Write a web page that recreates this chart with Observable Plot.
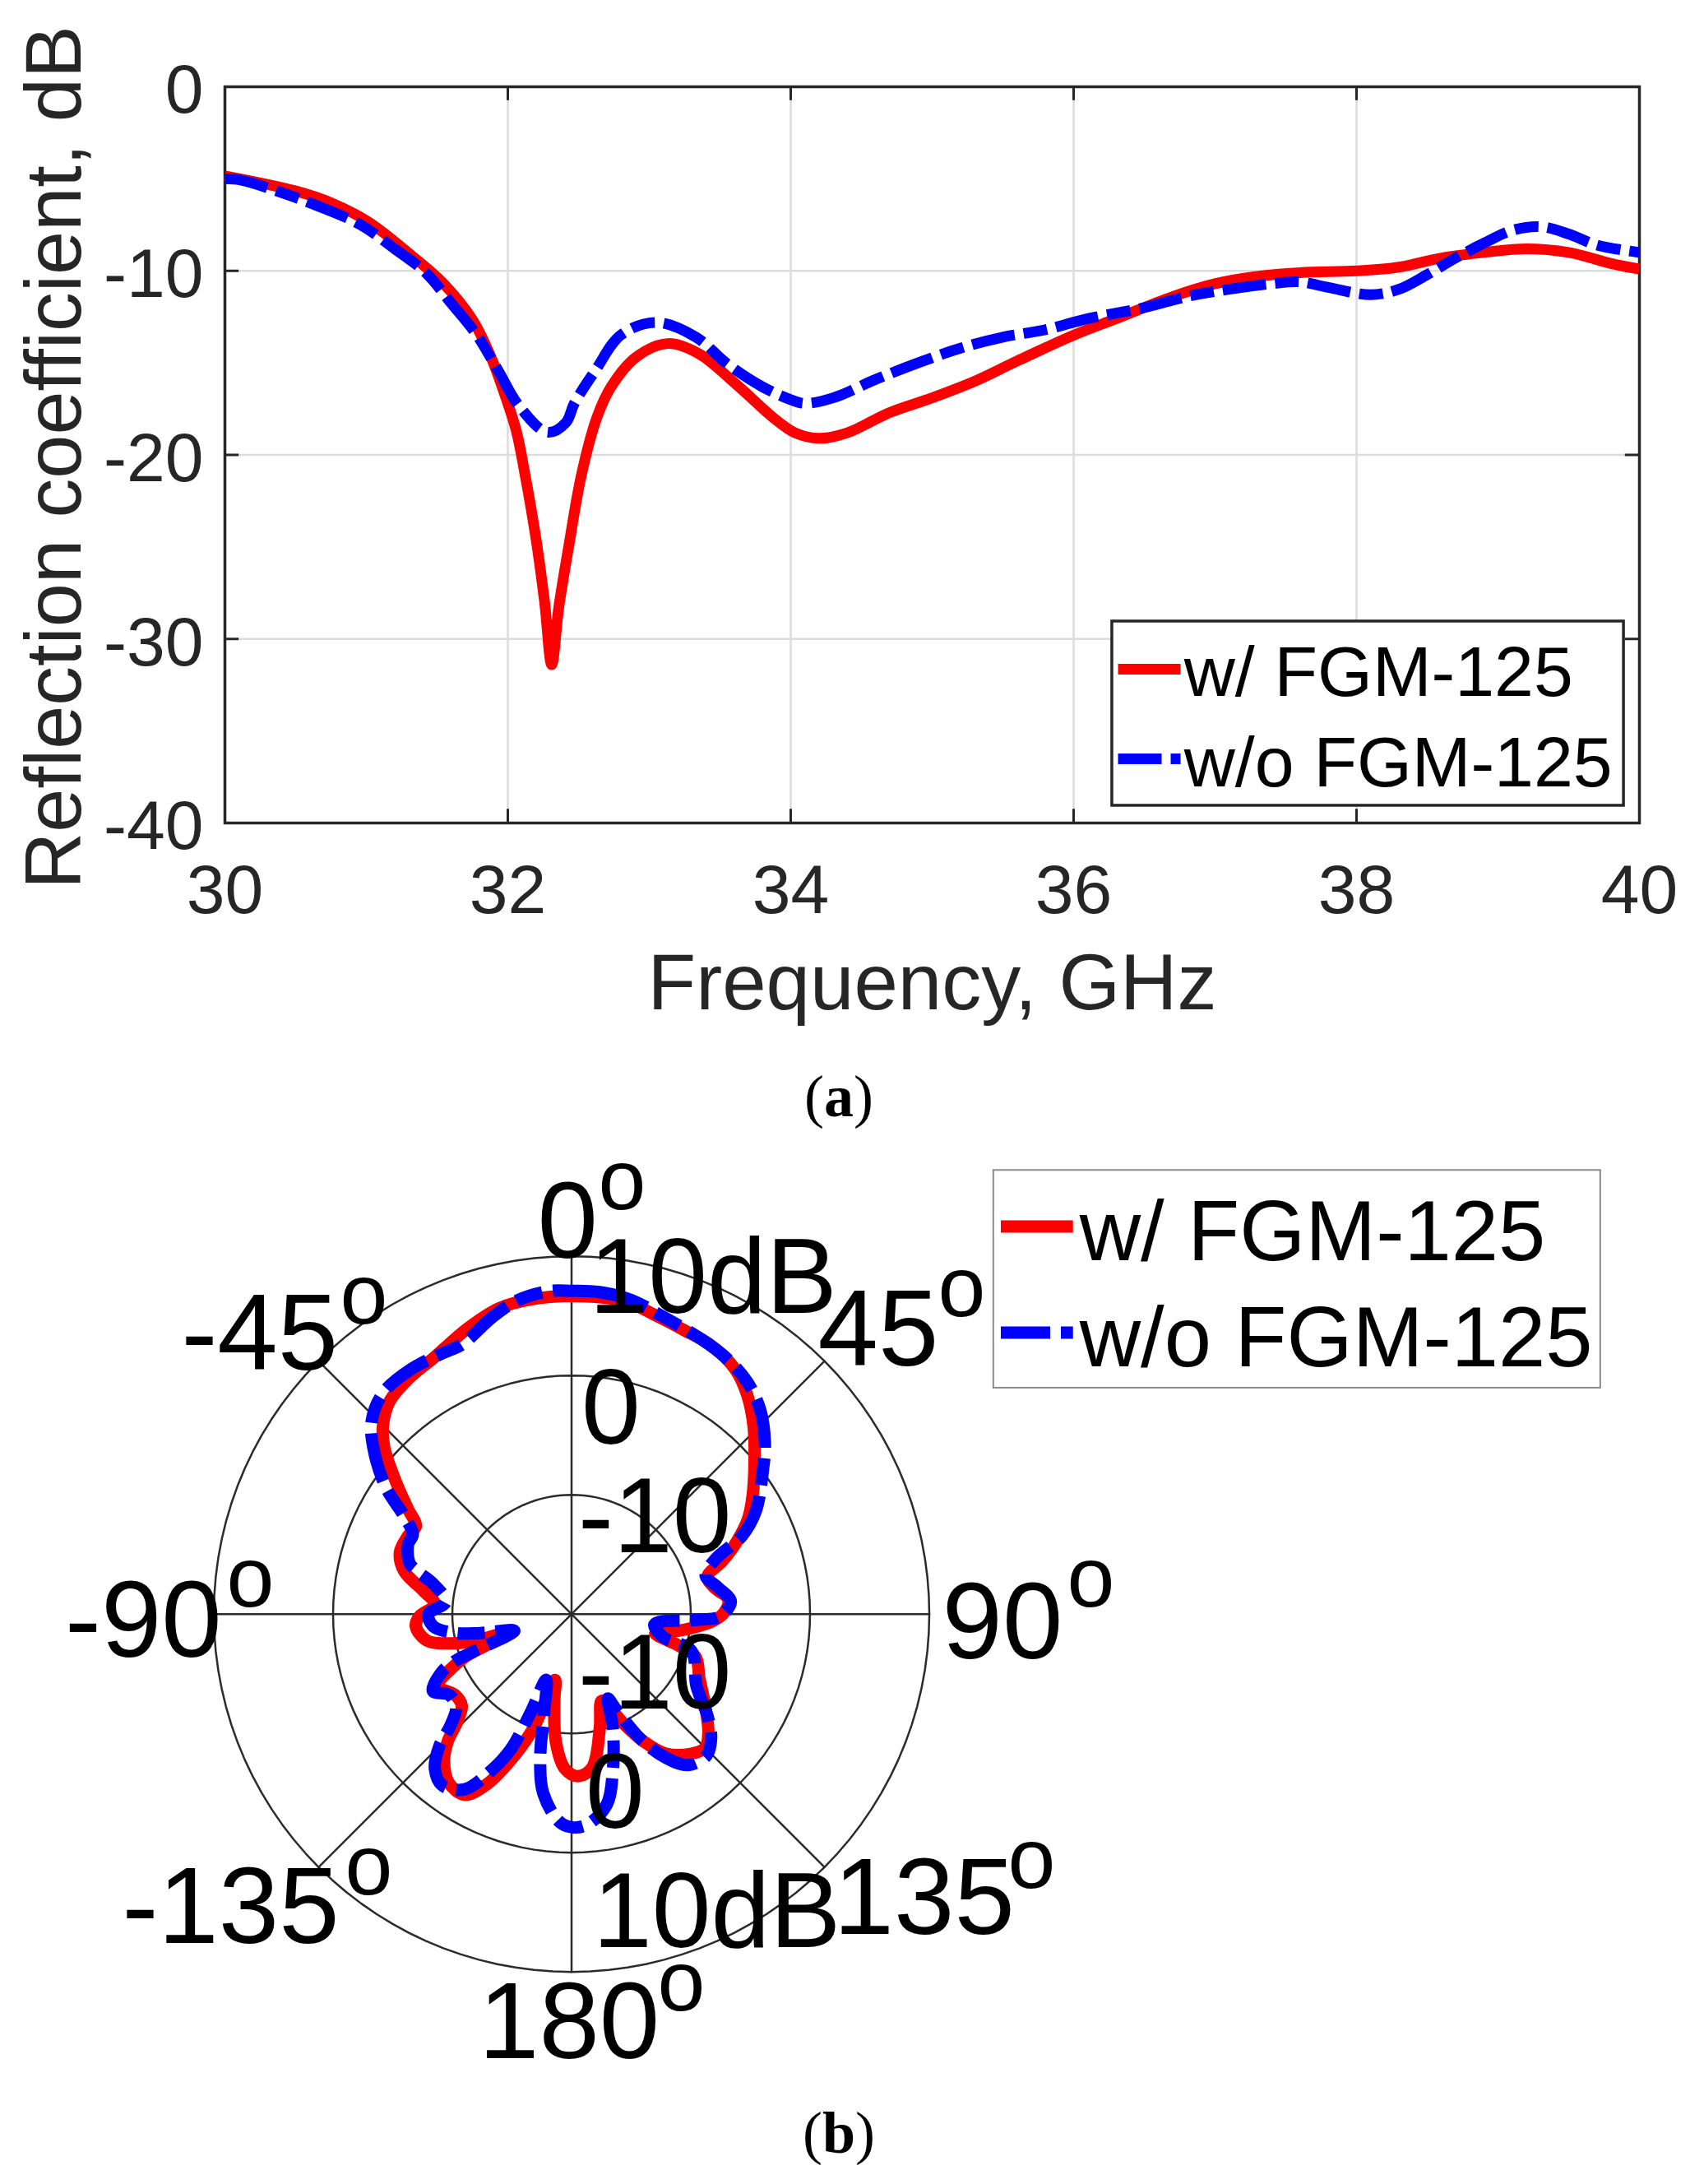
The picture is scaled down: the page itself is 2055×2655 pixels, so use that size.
<!DOCTYPE html>
<html><head><meta charset="utf-8">
<script src="https://cdn.jsdelivr.net/npm/d3@7"></script>
<script src="https://cdn.jsdelivr.net/npm/@observablehq/plot@0.6"></script>
<style>
html,body{margin:0;padding:0;background:#fff}
#page{position:relative;width:2055px;height:2655px;overflow:hidden;background:#fff}
#a,#b{position:absolute;left:0}
#a{top:0}#b{top:1360px}
.cap{position:absolute;font-family:"Liberation Serif",serif;font-size:72px;color:#000;transform:translateX(-50%);line-height:1}
</style></head><body>
<div id="page"><div id="a"></div><div id="b"></div>
<div class="cap" style="left:1020px;top:1297px">(<b>a</b>)</div>
<div class="cap" style="left:1020px;top:2557px">(<b>b</b>)</div>
</div>
<script>
// ---- Panel (a): reflection coefficient ----
const redFreq=[30,30.5,30.76,31.02,31.33,31.54,31.75,31.88,31.98,32.06,32.12,32.2,32.26,32.31,32.36,32.43,32.52,32.63,32.73,32.91,33.13,33.35,33.62,33.88,34.03,34.2,34.4,34.7,35,35.3,35.6,36,36.3,36.7,37,37.3,37.6,38,38.3,38.6,38.9,39.2,39.5,39.8,40];
const redDb=[-4.84,-5.66,-6.33,-7.37,-9.24,-10.65,-12.66,-14.67,-16.76,-18.7,-21,-24.6,-28,-31.4,-28.3,-25,-21.1,-17.96,-16.3,-14.67,-13.95,-14.5,-16.2,-18,-18.8,-19.1,-18.8,-17.7,-16.9,-16,-14.9,-13.5,-12.6,-11.4,-10.7,-10.3,-10.1,-10,-9.8,-9.3,-9,-8.8,-9,-9.6,-9.9];
const blueFreq=[30,30.11,30.42,30.68,30.96,31.2,31.42,31.6,31.78,31.93,32.08,32.28,32.41,32.47,32.62,32.8,33.05,33.33,33.55,33.8,34,34.1,34.3,34.6,34.9,35.2,35.5,35.8,36.1,36.5,36.8,37.1,37.4,37.6,37.8,38.1,38.3,38.5,38.7,38.9,39.1,39.3,39.5,39.7,40];
const blueDb=[-5,-5.07,-5.8,-6.55,-7.5,-8.8,-10.1,-11.76,-13.48,-15.4,-17.35,-18.77,-18.25,-17.2,-15.4,-13.48,-12.8,-13.6,-15.05,-16.3,-17,-17.2,-16.9,-15.9,-15,-14.2,-13.6,-13.2,-12.6,-12,-11.4,-11,-10.7,-10.6,-10.9,-11.3,-11,-10.2,-9.3,-8.5,-7.8,-7.6,-8,-8.6,-9];
const freqTicks=[30,32,34,36,38,40];
const dbTicks=[0,-10,-20,-30,-40];
const xTitle="Frequency, GHz";
const yTitle="Reflection coefficient, dB";
const seriesNames=["w/ FGM-125","w/o FGM-125"];

// ---- Panel (b): radiation pattern (angle clockwise from top, gain in dB) ----
const polarRedAngle=[0,9.7,15.9,21.8,27.1,33.7,38.9,44.2,48.8,56.6,61.7,66.9,70.5,74.7,79.6,84.6,89.4,92.7,96.7,99,103,106.3,109,116.7,124.5,131,135,139.5,146,150.4,154.3,158.5,161,166,172.4,177.7,182.4,187,191.3,194,198.4,202,206.5,210.6,216,221,224.2,226.7,230.1,235.4,241.6,243,245.5,248,250,254.3,254.4,256,259.7,265.5,269,274.1,279,284.4,289.8,295.5,299.5,302.7,307.1,311.6,314.8,319.3,325.1,331.7,340.1,346.7,352.6];
const polarRedDb=[6.67,6.6,6,5.6,5.4,4.7,3.5,1.9,0.4,-1.8,-3.2,-5.1,-6.55,-8.2,-7.8,-6.8,-7.2,-8.1,-9.9,-11,-12.8,-10.7,-9,-8,-6.4,-4.8,-4.15,-4.6,-5.9,-7.7,-9.7,-11.7,-12.3,-10.2,-7,-6.4,-7,-9.2,-12.6,-14.3,-10,-7.2,-4.05,-2.4,-2.5,-3.7,-5.1,-6.8,-8,-8.1,-7.2,-7.5,-8.85,-10.3,-12.4,-14.9,-11.8,-9.9,-7.65,-6.9,-7.2,-8.5,-7.4,-5.5,-4.7,-4.8,-5,-3.7,-1.5,1,2.3,3.45,4,4.4,5.5,6.35,6.6];
const polarBlueAngle=[0,5,10.8,17,25.9,31,37.2,42.8,48.5,53,60.8,65.4,68.9,73.9,79.8,85.5,91,92.6,97,104,107,120,127,131.8,136.3,142.3,146.7,151,155,156.7,160,165.4,169.7,176.7,182.6,189,192.5,195.2,201.2,202.6,204.3,207.4,211.4,217,221.5,225,227.4,231.3,236.7,241,246,248,249,253.8,258.3,260.8,265,270,275.6,282.4,285.5,287.5,293.1,296.7,300.2,304.4,310,314,319.4,326.8,333.7,337.8,345.2,350.3,356.1];
const polarBlueDb=[7.1,7.1,6.8,6.1,5.45,5.1,4.4,3.3,1.65,0.1,-2.3,-4.3,-7,-8.3,-7.5,-6.6,-7.6,-9.4,-13,-12.1,-9.5,-7.9,-5.7,-4.3,-3.6,-4,-5.6,-8,-11.2,-12.3,-9.9,-6.3,-3.7,-2.2,-2.4,-4.8,-7.9,-11.1,-14.1,-11,-7.5,-5.1,-2.8,-2,-2.7,-4.3,-6.2,-7.6,-7.7,-6.7,-8.1,-9.4,-11,-15,-12.2,-10.1,-8.35,-8,-9.4,-8.1,-6.6,-5.75,-5.1,-5.1,-3.8,-1.1,1.7,3.3,4.35,4.55,4.4,4.4,5.8,6.7,7.15];
const spokeAngles=[0,45,90,135];
const ringDb=[-10,0,10];
const angleLabels=["0","45","90","135","180","-135","-90","-45"];
const angleValues=[0,45,90,135,180,-135,-90,-45];
const radialLabels=["10dB","0","-10","-10","0","10dB"];

const sans='"Liberation Sans",Arial,sans-serif';
const inkA="#262626";

// ---- draw panel (a) ----
const rows=(xs,ys)=>xs.map((x,i)=>({x,y:ys[i]}));
const redStyle={stroke:"#ff0000",strokeWidth:13,strokeLinecap:"butt"};
const blueStyle={stroke:"#0000ff",strokeWidth:13,strokeLinecap:"butt",strokeDasharray:"53,11,29,11"};
document.getElementById("a").append(Plot.plot({
  width:2055,height:1300,marginLeft:273,marginRight:62,marginTop:105,marginBottom:300,
  style:{fontFamily:sans,background:"transparent"},
  x:{domain:[30,40],ticks:freqTicks},
  y:{domain:[-40,0],ticks:dbTicks},
  marks:[
    Plot.ruleX(freqTicks,{stroke:"#dcdcdc",strokeWidth:2.5}),
    Plot.ruleY(dbTicks,{stroke:"#dcdcdc",strokeWidth:2.5}),
    Plot.ruleX(freqTicks,{y1:-40,y2:-39.25,stroke:inkA,strokeWidth:3}),
    Plot.ruleX(freqTicks,{y1:0,y2:-0.75,stroke:inkA,strokeWidth:3}),
    Plot.ruleY(dbTicks,{x1:30,x2:30.1,stroke:inkA,strokeWidth:3}),
    Plot.ruleY(dbTicks,{x1:40,x2:39.9,stroke:inkA,strokeWidth:3}),
    Plot.frame({stroke:inkA,strokeWidth:3.5}),
    Plot.axisX(freqTicks,{anchor:"bottom",tickSize:0,tickPadding:50,fontSize:84,fill:inkA,tickFormat:d=>String(d),label:null}),
    Plot.axisY(dbTicks,{anchor:"left",tickSize:0,tickPadding:26,fontSize:84,fill:inkA,dy:5,tickFormat:d=>String(d),label:null}),
    Plot.text([xTitle],{frameAnchor:"bottom",textAnchor:"middle",lineAnchor:"bottom",dy:226,fontSize:96,fill:inkA,fontFamily:sans}),
    Plot.text([yTitle],{frameAnchor:"left",textAnchor:"middle",lineAnchor:"bottom",rotate:-90,dx:-176,dy:3,fontSize:95.5,fill:inkA,fontFamily:sans}),
    Plot.line(rows(redFreq,redDb),{x:"x",y:"y",curve:"catmull-rom",...redStyle}),
    Plot.line(rows(blueFreq,blueDb),{x:"x",y:"y",curve:"catmull-rom",...blueStyle}),
    // legend
    Plot.rect([0],{x1:()=>36.273,x2:()=>39.89,y1:()=>-29.05,y2:()=>-39.06,fill:"#fff",stroke:inkA,strokeWidth:3.5}),
    Plot.line([[36.314,-31.64],[36.756,-31.64]],{...redStyle}),
    Plot.line([[36.314,-36.51],[36.756,-36.51]],{...blueStyle}),
    Plot.text([seriesNames[0]],{x:()=>36.78,y:()=>-33.1,textAnchor:"start",lineAnchor:"bottom",fontSize:86,fill:"#000",fontFamily:sans}),
    Plot.text([seriesNames[1]],{x:()=>36.78,y:()=>-38.02,textAnchor:"start",lineAnchor:"bottom",fontSize:86,fill:"#000",fontFamily:sans})
  ]
}));

// ---- draw panel (b) ----
const rad=d=>d*Math.PI/180;
const DB0=-20; // pattern centre
const polar=(angles,dbs)=>angles.map((a,i)=>({x:(dbs[i]-DB0)*Math.sin(rad(a)),y:(dbs[i]-DB0)*Math.cos(rad(a))}));
const ringAngles=d3.range(0,361,3);
const rTop=10-DB0;
const at=a=>({x:rTop*Math.sin(rad(a)),y:rTop*Math.cos(rad(a))});
const grid={stroke:"#2b2b2b",strokeWidth:2.5};
const polarRed={stroke:"#ff0000",strokeWidth:15,strokeLinecap:"butt"};
const polarBlue={stroke:"#0000ff",strokeWidth:15,strokeLinecap:"butt",strokeDasharray:"60,13,33,13"};
// text offsets (px) relative to each angle's point on the outer ring: number, then degree "o"
const angleOff=[[-41.5,2,32.5,-57],[-8,5,138,-55],[15.5,54,167.5,-9],[11,81,223,25],[-113,105,104.5,47],[-239,92,32,33],[-181,52,15.5,-9],[-167,10,26,-46]];
const radialOff=[[30,21.5,69],[20,12,83],[10,8,70],[-10,8,-30],[-20,17,-30],[-30,26,-30]];
const numMarks=[],degMarks=[];
angleLabels.forEach((s,i)=>{
  const p=at(angleValues[i]),o=angleOff[i];
  numMarks.push(Plot.text([s],{x:()=>p.x,y:()=>p.y,dx:o[0],dy:o[1],textAnchor:"start",lineAnchor:"bottom",fontSize:132,fill:"#000",fontFamily:sans}));
  degMarks.push(Plot.text(["o"],{x:()=>p.x,y:()=>p.y,dx:o[2],dy:o[3],textAnchor:"start",lineAnchor:"bottom",fontSize:104,fill:"#000",fontFamily:sans}));
});
const radMarks=radialLabels.map((s,i)=>{
  const o=radialOff[i];
  return Plot.text([s],{x:()=>0,y:()=>o[0],dx:o[1],dy:o[2],textAnchor:"start",lineAnchor:"bottom",fontSize:129,fill:"#000",fontFamily:sans});
});
const cy=601.7,R=435;
document.getElementById("b").append(Plot.plot({
  width:2055,height:1295,margin:0,
  style:{fontFamily:sans,background:"transparent"},
  x:{domain:[-30,30],range:[694.5-R,694.5+R],axis:null},
  y:{domain:[-30,30],range:[cy+R,cy-R],axis:null},
  marks:[
    ...ringDb.map(v=>Plot.line(ringAngles.map(a=>({x:(v-DB0)*Math.sin(rad(a)),y:(v-DB0)*Math.cos(rad(a))})),{x:"x",y:"y",...grid})),
    ...spokeAngles.map(a=>{const p=at(a);return Plot.line([[-p.x,-p.y],[p.x,p.y]],grid);}),
    Plot.line(polar(polarRedAngle,polarRedDb),{x:"x",y:"y",curve:"catmull-rom-closed",...polarRed}),
    Plot.line(polar(polarBlueAngle,polarBlueDb),{x:"x",y:"y",curve:"catmull-rom-closed",...polarBlue}),
    ...radMarks,...numMarks,...degMarks,
    // legend
    Plot.rect([0],{x1:()=>35.4,x2:()=>86.3,y1:()=>18.95,y2:()=>37.2,fill:"#fff",stroke:"#8a8a8a",strokeWidth:2}),
    Plot.line([[36,32.5],[42.05,32.5]],{...polarRed}),
    Plot.line([[36,23.6],[42.05,23.6]],{...polarBlue}),
    Plot.text([seriesNames[0]],{x:()=>42.6,y:()=>29.7,textAnchor:"start",lineAnchor:"bottom",fontSize:103,fill:"#000",fontFamily:sans}),
    Plot.text([seriesNames[1]],{x:()=>42.6,y:()=>20.8,textAnchor:"start",lineAnchor:"bottom",fontSize:103,fill:"#000",fontFamily:sans})
  ]
}));
</script></body></html>
